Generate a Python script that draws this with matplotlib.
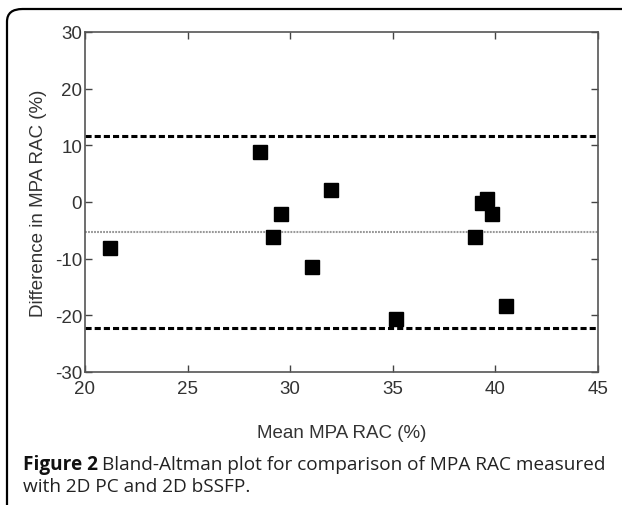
import matplotlib
matplotlib.use("Agg")
import matplotlib.pyplot as plt
from matplotlib.patches import FancyBboxPatch

# valores
media_rac = [21.2, 28.55, 29.55, 29.15, 32.0, 31.05, 35.15, 39.0, 39.35, 39.6, 39.85, 40.5]
dif_rac = [-8.2, 8.9, -2.1, -6.1, 2.1, -11.4, -20.6, -6.1, -0.2, 0.6, -2.2, -18.3]
vies = -5.3
limites = [11.7, -22.2]

xticks = [20, 25, 30, 35, 40, 45]
yticks = [-30, -20, -10, 0, 10, 20, 30]

fig = plt.figure(figsize=(6.22, 5.06), dpi=100)

# moldura arredondada da figura (só o canto superior esquerdo aparece)
moldura = FancyBboxPatch((7 / 622, -0.2), 1.2, 1.2 - 10 / 506,
                         boxstyle="round,pad=0,rounding_size=0.025",
                         transform=fig.transFigure, fill=False,
                         ec="black", lw=1.6, clip_on=False)
fig.patches.append(moldura)

ax = fig.add_axes([85 / 622, 1 - 373 / 506, 513 / 622, 340 / 506])

ax.plot(media_rac, dif_rac, "s", color="black", ms=10, mec="black", zorder=3)
ax.axhline(vies, color="#999999", lw=1.5, ls=(0, (0.9, 0.55)))
for lim in limites:
    ax.axhline(lim, color="black", lw=2.2, ls=(0, (2.0, 1.0)))

ax.set_xlim(20, 45)
ax.set_ylim(-30, 30)
ax.set_xticks(xticks)
ax.set_yticks(yticks)

fonte = "Liberation Sans"
ax.set_xticklabels([str(t) for t in xticks], family=fonte, fontsize=13.5, color="#333333")
ax.set_yticklabels([str(t) for t in yticks], family=fonte, fontsize=13.5, color="#333333")
ax.tick_params(direction="in", top=True, right=True, length=5, width=1,
               color="#444444", pad=2)
ax.tick_params(axis="x", pad=6)
for s in ax.spines.values():
    s.set_color("#555555")
    s.set_linewidth(1.2)

ax.set_xlabel("Mean MPA RAC (%)", family=fonte, fontsize=13.5, color="#333333", labelpad=19)
ax.set_ylabel("Difference in MPA RAC (%)", family=fonte, fontsize=13.5, color="#333333", labelpad=6)

# legenda da figura
t1 = fig.text(23 / 622, 1 - 465 / 506, "Figure 2", family="Open Sans", weight="bold",
              fontsize=13.7, va="center", color="#111111")
fig.canvas.draw()
bb = t1.get_window_extent()
fig.text(bb.x1 / 622 + 4 / 622, 1 - 465 / 506,
         "Bland-Altman plot for comparison of MPA RAC measured",
         family="Open Sans", fontsize=13.7, va="center", color="#222222")
fig.text(23 / 622, 1 - 487 / 506, "with 2D PC and 2D bSSFP.",
         family="Open Sans", fontsize=13.7, va="center", color="#222222")

fig.savefig("out.png", dpi=100)
